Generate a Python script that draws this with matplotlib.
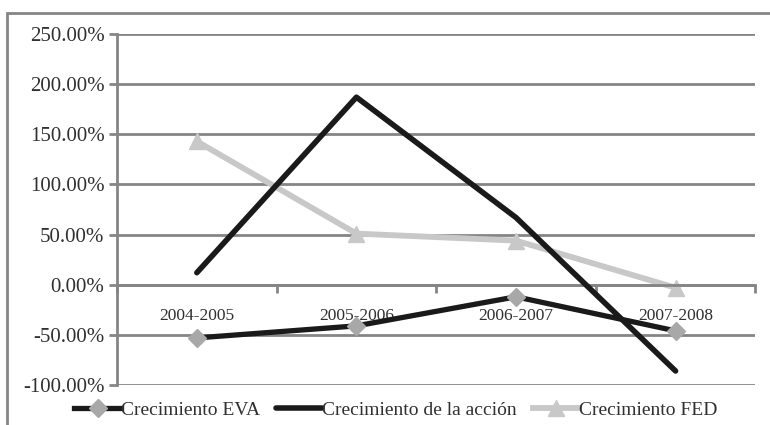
import matplotlib.pyplot as plt
from matplotlib.patches import Rectangle
import numpy as np

plt.rcParams['font.family'] = ['Liberation Serif', 'DejaVu Serif']

# datos (en %)
periodos = ['2004-2005', '2005-2006', '2006-2007', '2007-2008']
crec_eva = [-53, -41, -12, -46]
crec_accion = [12, 187, 67, -86]
crec_fed = [143, 51, 44, -3]

gris = '#858585'
texto = '#303030'

fig = plt.figure(figsize=(7.7, 4.25), dpi=100)
ax = fig.add_axes([0.152, 0.094, 0.829, 0.826])

x = np.arange(len(periodos))
ax.plot(x, crec_eva, color='#1a1a1a', lw=3.8, marker='D', ms=9.5,
        mfc='#a8a8a8', mec='#a8a8a8', label='Crecimiento EVA', zorder=4)
ax.plot(x, crec_accion, color='#1a1a1a', lw=4, solid_capstyle='round',
        label='Crecimiento de la acción', zorder=3)
ax.plot(x, crec_fed, color='#c8c8c8', lw=4.2, marker='^', ms=11,
        mfc='#c8c8c8', mec='#c8c8c8', label='Crecimiento FED', zorder=2)

ax.set_xlim(-0.5, len(periodos) - 0.5)
ax.set_ylim(-100, 250)
ax.set_yticks(np.arange(-100, 251, 50))
ax.set_yticklabels(['%.2f%%' % v for v in np.arange(-100, 251, 50)], fontsize=15, color=texto)
ax.yaxis.grid(True, color=gris, lw=2)
ax.set_axisbelow(True)

# eje x en el cero
ax.spines['bottom'].set_position(('data', 0))
ax.spines['bottom'].set_color(gris)
ax.spines['bottom'].set_linewidth(2)
ax.spines['left'].set_color(gris)
ax.spines['left'].set_linewidth(2)
ax.spines['top'].set_visible(False)
ax.spines['right'].set_visible(False)

ax.set_xticks(x)
ax.set_xticklabels(periodos, fontsize=12.5, color=texto)
ax.tick_params(axis='x', which='major', length=0, pad=17)
ax.set_xticks(np.arange(-0.5, len(periodos), 1), minor=True)
ax.tick_params(axis='x', which='minor', length=6, width=2, color=gris, direction='out')
ax.tick_params(axis='y', length=6, width=2, color=gris, pad=3)

leg = ax.legend(loc='upper center', bbox_to_anchor=(0.437, -0.025), ncol=3, frameon=False,
                fontsize=14, handlelength=2.4, handletextpad=0.0, columnspacing=0.8,
                borderaxespad=0)
for t in leg.get_texts():
    t.set_color(texto)

# marco exterior del grafico
fig.patches.append(Rectangle((0.009, -0.05), 1.1, 0.05 + 0.969, transform=fig.transFigure,
                             fill=False, edgecolor=gris, lw=2, zorder=0))

fig.savefig('out.png', dpi=100)
